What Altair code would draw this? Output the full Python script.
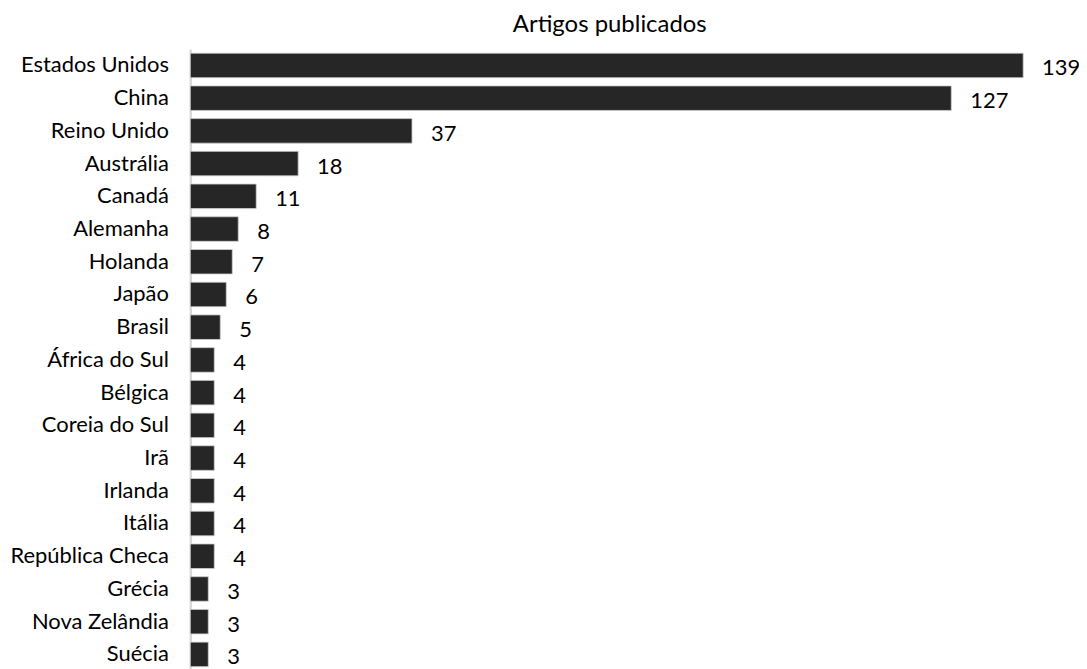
import altair as alt
import pandas as pd

countries = ["Estados Unidos", "China", "Reino Unido", "Austrália", "Canadá", "Alemanha",
             "Holanda", "Japão", "Brasil", "África do Sul", "Bélgica", "Coreia do Sul",
             "Irã", "Irlanda", "Itália", "República Checa", "Grécia", "Nova Zelândia", "Suécia"]
articles = [139, 127, 37, 18, 11, 8, 7, 6, 5, 4, 4, 4, 4, 4, 4, 4, 3, 3, 3]
title_text = "Artigos publicados"

df = pd.DataFrame({"pais": countries, "artigos": articles})

FONT = "Lato"

y_enc = alt.Y("pais:N", sort=countries, title=None,
              scale=alt.Scale(range=[0, 624], paddingInner=0.25, paddingOuter=0.125),
              axis=alt.Axis(ticks=False, domainColor="#d9d9d9", domainWidth=2.5,
                            labelFont=FONT, labelFontSize=22, labelColor="#000000",
                            labelPadding=22, labelLimit=300))
x_enc = alt.X("artigos:Q", title=None,
              scale=alt.Scale(domain=[0, 140], nice=False, zero=True),
              axis=None)

bars = alt.Chart(df).mark_bar(color="#262626", stroke="#d0d0d0", strokeWidth=0.8).encode(
    x=x_enc, y=y_enc)

labels = alt.Chart(df).mark_text(align="left", baseline="alphabetic", dx=19, dy=10,
                                 font=FONT, fontSize=22, color="#000000").encode(
    x=alt.X("artigos:Q"), y=alt.Y("pais:N", sort=countries), text="artigos:Q")

chart = (bars + labels).properties(
    width=842, height=621,
    title=alt.TitleParams(title_text, font=FONT, fontSize=24, fontWeight="normal",
                          color="#000000", anchor="middle", baseline="alphabetic",
                          offset=14, dy=21),
    autosize=alt.AutoSizeParams(type="none"),
    padding={"left": 183, "top": 40, "right": 50, "bottom": 0},
).configure_view(stroke=None)

chart.save("out.html", embed_options={"renderer": "svg", "actions": False})
